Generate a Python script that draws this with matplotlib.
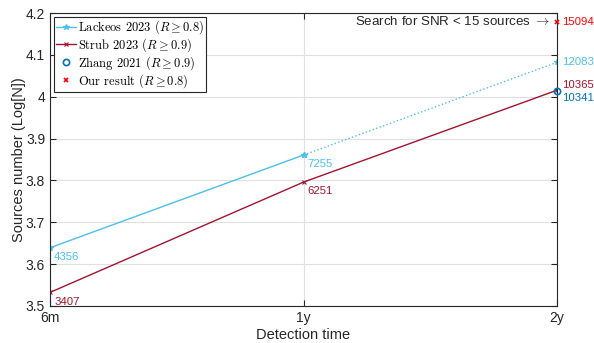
import numpy as np
import matplotlib
matplotlib.use("Agg")
import matplotlib.pyplot as plt

plt.rcParams['font.family'] = ['Liberation Sans', 'DejaVu Sans']
plt.rcParams['mathtext.fontset'] = 'cm'

times = ['6m', '1y', '2y']
lackeos = [4356, 7255, 12083]
strub = [3407, 6251, 10365]
zhang = [10341]
ours = [15094]

c_lac = '#4DBEEE'
c_str = '#A2142F'
c_zh = '#0072BD'
c_our = '#FF0000'

x = np.arange(len(times))
fig = plt.figure(figsize=(5.94, 3.43), dpi=100)
ax = fig.add_axes([0.0842, 0.108, 0.8535, 0.854])

ll = np.log10(lackeos)
ls = np.log10(strub)
ax.plot(x[:2], ll[:2], '-', color=c_lac, lw=1, marker='*', ms=4, mew=0.8,
        label=r'Lackeos 2023 ($R \geq 0.8$)')
ax.plot(x[1:], ll[1:], ':', color=c_lac, lw=1, marker='*', ms=4, mew=0.8)
ax.plot(x, ls, '-', color=c_str, lw=1, marker='x', ms=3.5, mew=0.8,
        label=r'Strub 2023 ($R \geq 0.9$)')
ax.plot([x[2]], np.log10(zhang), 'o', color=c_zh, ms=4.5, mfc='none', mew=1.2,
        label=r'Zhang 2021 ($R \geq 0.9$)', clip_on=False, zorder=5)
ax.plot([x[2]], np.log10(ours), 'x', color=c_our, ms=3.5, mew=1.2,
        label=r'Our result ($R \geq 0.8$)', clip_on=False, zorder=5)

fs = 8.2
# data labels
for i in range(2):
    ax.annotate(str(lackeos[i]), (x[i], ll[i]), xytext=(3, -3), textcoords='offset points',
                ha='left', va='top', color=c_lac, fontsize=fs)
    ax.annotate(str(strub[i]), (x[i], ls[i]), xytext=(3, -3), textcoords='offset points',
                ha='left', va='top', color=c_str, fontsize=fs)
ax.annotate(str(lackeos[2]), (x[2], ll[2]), xytext=(3.5, 0), textcoords='offset points',
            ha='left', va='center', color=c_lac, fontsize=fs, annotation_clip=False)
ax.annotate(str(strub[2]), (x[2], ls[2]), xytext=(3.5, 4), textcoords='offset points',
            ha='left', va='center', color=c_str, fontsize=fs, annotation_clip=False)
ax.annotate(str(zhang[0]), (x[2], np.log10(zhang[0])), xytext=(3.5, -5), textcoords='offset points',
            ha='left', va='center', color=c_zh, fontsize=fs, annotation_clip=False)
ax.annotate(str(ours[0]), (x[2], np.log10(ours[0])), xytext=(3.5, 0), textcoords='offset points',
            ha='left', va='center', color=c_our, fontsize=fs, annotation_clip=False)
ax.annotate(r'Search for SNR < 15 sources $\rightarrow$', (x[2], np.log10(ours[0])),
            xytext=(-5, 0), textcoords='offset points', ha='right', va='center',
            fontsize=9.6, color='#262626')

ax.set_xlim(0, 2)
ax.set_ylim(3.5, 4.2)
ax.set_xticks(x)
ax.set_xticklabels(times)
ax.set_yticks(np.arange(3.5, 4.21, 0.1))
ax.set_yticklabels(['3.5', '3.6', '3.7', '3.8', '3.9', '4', '4.1', '4.2'])
ax.tick_params(direction='in', top=True, right=True, labelsize=10, colors='#262626',
               length=4, width=0.8)
ax.grid(True, color='#E0E0E0', lw=0.8)
ax.set_axisbelow(True)
for s in ax.spines.values():
    s.set_color('#262626')
    s.set_linewidth(0.8)
ax.set_xlabel('Detection time', fontsize=10.5, color='#262626', labelpad=2)
ax.set_ylabel('Sources number (Log[N])', fontsize=10.5, color='#262626', labelpad=0)

leg = ax.legend(loc='upper left', prop={'family': 'cmr10', 'size': 9},
                fancybox=False, framealpha=1, edgecolor='#262626',
                borderpad=0.15, labelspacing=0.0, handlelength=1.6, handletextpad=0.2,
                borderaxespad=0.3)
leg.get_frame().set_linewidth(0.8)

fig.savefig('out.png', dpi=100)
